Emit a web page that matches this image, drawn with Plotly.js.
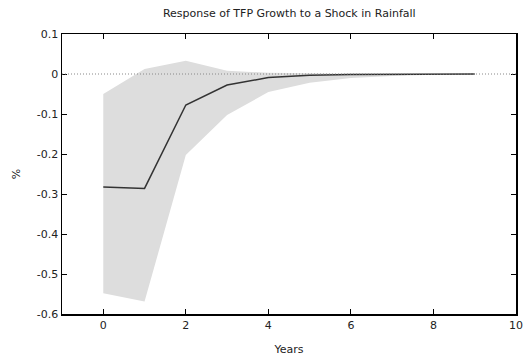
<!DOCTYPE html>
<html>
<head>
<meta charset="utf-8">
<script src="https://cdn.plot.ly/plotly-3.0.1.min.js"></script>
<style>html,body{margin:0;padding:0;background:#fff;}#chart{width:526px;height:357px;}</style>
</head>
<body>
<div id="chart"></div>
<script>
const years = [0, 1, 2, 3, 4, 5, 6, 7, 8, 9];
const response = [-0.2825, -0.286, -0.0775, -0.0275, -0.009, -0.003, -0.001, -0.0004, -0.0001, 0];
const upper = [-0.05, 0.0125, 0.033, 0.008, 0.003, 0.001, 0.0005, 0.0002, 0.0001, 0];
const lower = [-0.548, -0.569, -0.2025, -0.1025, -0.045, -0.022, -0.01, -0.005, -0.002, -0.001];
const xTicks = [0, 2, 4, 6, 8, 10];
const yTicks = [0.1, 0, -0.1, -0.2, -0.3, -0.4, -0.5, -0.6];

const font = {family: 'DejaVu Sans, Verdana, sans-serif', size: 11, color: '#222'};

const traces = [
  {x: years, y: lower, type: 'scatter', mode: 'lines', line: {width: 0, color: '#dcdcdc'}, hoverinfo: 'skip', showlegend: false},
  {x: years, y: upper, type: 'scatter', mode: 'lines', fill: 'tonexty', fillcolor: '#dddddd', line: {width: 0, color: '#dcdcdc'}, hoverinfo: 'skip', showlegend: false},
  {x: years, y: response, type: 'scatter', mode: 'lines', line: {color: '#333333', width: 1.5}, showlegend: false}
];

const axisCommon = {
  showgrid: false, zeroline: false, showline: true, linecolor: '#000', linewidth: 1.5,
  mirror: 'ticks', ticks: 'inside', ticklen: 5, tickcolor: '#000', tickwidth: 1,
  tickfont: font
};

const layout = {
  width: 526, height: 357,
  margin: {l: 62, r: 10, t: 34, b: 43},
  paper_bgcolor: '#fff', plot_bgcolor: '#fff',
  font: font,
  title: {text: 'Response of TFP Growth to a Shock in Rainfall', font: {family: font.family, size: 11, color: '#222'}, x: 0.55, xanchor: 'center', y: 0.962, yanchor: 'middle'},
  xaxis: Object.assign({}, axisCommon, {range: [-1, 10], tickvals: xTicks, ticktext: xTicks.map(String), title: {text: 'Years', font: font, standoff: 14}}),
  yaxis: Object.assign({}, axisCommon, {range: [-0.6, 0.1], tickvals: yTicks, ticktext: yTicks.map(v => String(v)), title: {text: '%', font: font, standoff: 14}}),
  shapes: [{type: 'line', xref: 'paper', x0: 0, x1: 1, yref: 'y', y0: 0, y1: 0, line: {color: '#888', width: 1, dash: '1px,2px'}, layer: 'above'}]
};

Plotly.newPlot('chart', traces, layout, {displayModeBar: false, staticPlot: true});
</script>
</body>
</html>
